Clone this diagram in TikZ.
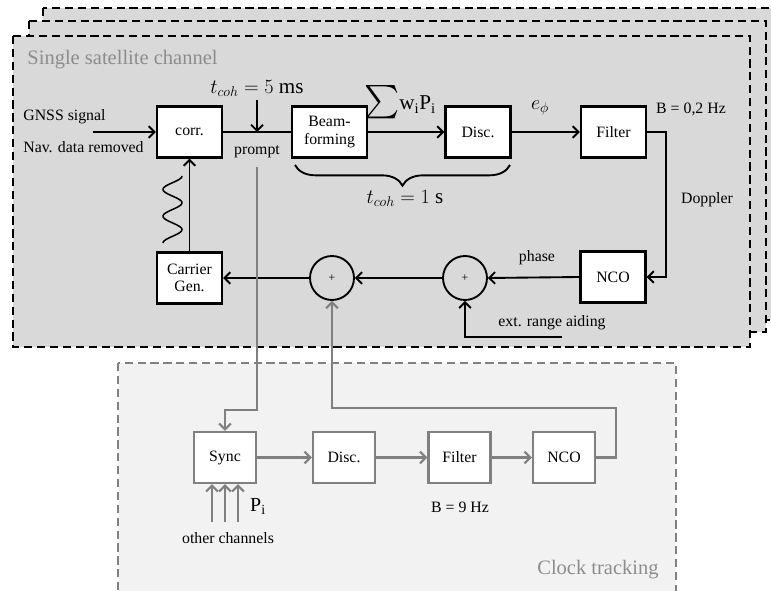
\documentclass[tikz,border=0pt]{standalone}
\usepackage{fontspec}
\setmainfont{Liberation Serif}
\usetikzlibrary{arrows.meta,decorations.pathreplacing}
\definecolor{chanfill}{HTML}{D9D9D9}
\definecolor{clkfill}{HTML}{F2F2F2}
\definecolor{clkline}{HTML}{808080}
\definecolor{capgray}{HTML}{8C8C8C}
\tikzset{
  >={Straight Barb[length=5pt,width=10pt]},
  chan/.style={fill=chanfill, draw=black, line width=2pt, dash pattern=on 7pt off 4pt},
  clk/.style={fill=clkfill, draw=clkline, line width=1.6pt, dash pattern=on 7pt off 4pt},
  blk/.style={draw, line width=1.9pt, fill=white, minimum width=1.95cm, minimum height=1.53cm,
    inner sep=0pt, align=center, font=\fontsize{13.5}{15}\selectfont},
  gblk/.style={blk, draw=clkline, line width=2pt, minimum width=1.86cm},
  sumnode/.style={circle, draw, line width=1.6pt, minimum size=1.32cm, inner sep=0pt,
    font=\fontsize{10}{10}\selectfont},
  lbl/.style={inner sep=1pt, font=\fontsize{13.5}{15}\selectfont},
  mlbl/.style={inner sep=1pt, font=\fontsize{18}{20}\selectfont},
  framelbl/.style={inner sep=1pt, text=capgray, font=\fontsize{17.5}{20}\selectfont},
  arr/.style={->, line width=1.6pt},
  garr/.style={->, line width=1.8pt, draw=clkline}
}
\begin{document}
\begin{tikzpicture}[x=0.03cm, y=-0.03cm]
		%%%%% START %%%%%
		\useasboundingbox (0,0) rectangle (771,591);
		
		% stacked satellite channels
		\draw[chan] (43,8) rectangle (790,320);
		\draw[chan] (29,21) rectangle (766,332);
		\draw[chan] (13,36) rectangle (750,347);
		\node[framelbl, anchor=west] (chancap) at (26,60) {Single satellite channel};
		
		% clock tracking frame
		\draw[clk] (118,363) rectangle (676,605);
		\node[framelbl] (clkcap) at (598,570) {Clock tracking};
		
		% carrier loop blocks
		\node[blk] (corr) at (189.5,132) {corr.};
		\node[blk, minimum width=2.25cm] (beam) at (329.5,132) {Beam-\\forming};
		\node[blk] (disc) at (478,132) {Disc.};
		\node[blk] (filt) at (613.5,132) {Filter};
		\node[blk] (nco) at (613,277) {NCO};
		\node[blk] (carr) at (189.5,278) {Carrier\\Gen.};
		\node[sumnode] (sumB) at (465,278) {+};
		\node[sumnode] (sumA) at (332,278) {+};
		
		\coordinate (gnss) at (93,132);
		\coordinate (tap) at (257,132);
		\coordinate (tcoh) at (257,100);
		\coordinate (aid) at (562,337);
		
		\node[lbl, anchor=west] (gnsslbl) at (22,117) {GNSS signal};
		\node[lbl, anchor=west] (navlbl) at (22,147) {Nav. data removed};
		\node[mlbl] (tfive) at (257,88) {$t_{coh} = 5\ \mathrm{ms}$};
		\node[lbl] (prompt) at (257,152) {prompt};
		\node[inner sep=0pt] (bigsum) at (382,102) {\resizebox*{!}{1.0cm}{$\sum$}};
		\node[mlbl, anchor=base west] (wsum) at (398,110) {$\mathrm{w}_{\mathrm{i}}\mathrm{P}_{\mathrm{i}}$};
		\node[mlbl] (ephi) at (540,108) {$e_{\phi}$};
		\node[lbl] (bw) at (691,109) {B = 0,2 Hz};
		\node[lbl] (doppler) at (707,200) {Doppler};
		\node[lbl] (phase) at (537,258) {phase};
		\node[lbl] (aidlbl) at (552,323) {ext. range aiding};
		\node[mlbl] (tone) at (405,198) {$t_{coh} = 1\ \mathrm{s}$};
		
		\draw[arr] (gnss) -- (corr.west);
		\draw[line width=1.6pt] (corr.east) -- (beam.west);
		\draw[arr] (tcoh) -- (tap);
		\draw[arr] (beam.east) -- (disc.west);
		\draw[arr] (disc.east) -- (filt.west);
		\draw[arr] (filt.east) -- ++(19,0) |- (nco.east);
		\draw[arr] (nco.west) -- (sumB.east);
		\draw[arr] (aid) -| (sumB.south);
		\draw[arr] (sumB.west) -- (sumA.east);
		\draw[arr] (sumA.west) -- (carr.east);
		\draw[arr] (carr.north) -- (corr.south);
		\draw[line width=1.6pt, decorate, decoration={brace, mirror, amplitude=0.62cm}] (295,165) -- (510,165);
		\draw[line width=1.3pt] plot[domain=0:900, samples=80, smooth] ({172.5+9.5*cos(\x)}, {176+\x/180*13.4});
		
		% clock tracking loop
		\node[gblk] (sync) at (225,457.5) {Sync};
		\node[gblk] (cdisc) at (344,457.5) {Disc.};
		\node[gblk] (cfilt) at (459.5,457.5) {Filter};
		\node[gblk] (cnco) at (564,457.5) {NCO};
		\node[lbl] (cbw) at (460,507) {B = 9 Hz};
		\node[lbl] (others) at (228,538) {other channels};
		\node[inner sep=1pt, font=\fontsize{17}{18}\selectfont] (pi) at (258,506) {P$_{\mathrm{i}}$};
		
		\draw[garr] (257,167) -- (257,410) -| (sync.north);
		\draw[garr] (sync.east) -- (cdisc.west);
		\draw[garr] (cdisc.east) -- (cfilt.west);
		\draw[garr] (cfilt.east) -- (cnco.west);
		\draw[garr] (cnco.east) -- ++(20,0) |- (332,408) -- (sumA.south);
		\foreach \px [count=\i] in {212,225,238} {
			\coordinate (oc\i) at (\px,522);
			\draw[garr] (oc\i) -- (oc\i |- sync.south);
		}
		%%%%% END %%%%%
	\end{tikzpicture}
\end{document}
